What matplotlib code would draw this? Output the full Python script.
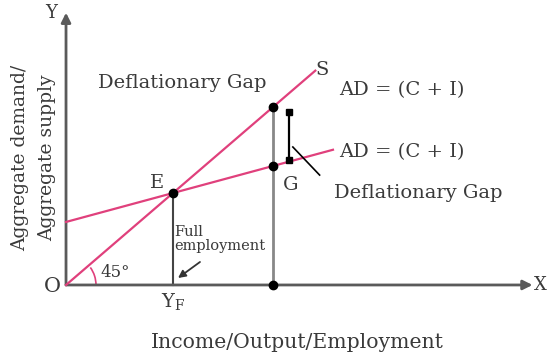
import matplotlib
matplotlib.use("Agg")
import matplotlib.pyplot as plt
from matplotlib.patches import Arc

plt.rcParams['font.family'] = ['DejaVu Serif']
plt.rcParams['mathtext.fontset'] = 'dejavuserif'

# ---- data (economic units) ----
yf = 100.0                 # full-employment income
x_gap = 193.5              # income level where the gap is shown
as_x = [0, 233]            # 45 degree line (aggregate supply)
as_y = [0, 233]
ad_x = [0, 249.5]          # aggregate demand line
ad_y = [68.5, 147.0]
e_point = (100.0, 100.0)
top_point = (193.5, 193.5)
g_point = (193.5, 129.5)
bracket_x = 208.5
bracket_y = [136.0, 188.0]
leader_x = [212, 237]
leader_y = [150, 119.5]
x_axis_end = 436
y_axis_end = 296

pink = '#e0407c'
axis_col = '#5a5a5a'
txt = '#3a3a3a'

fig = plt.figure(figsize=(5.52, 3.57), dpi=100)
ax = fig.add_axes([0, 0, 1, 1])
ax.set_xlim(-61.7, 454.2)
ax.set_ylim(-78.3, 309.8)
ax.axis('off')

# axes with arrows
ax.annotate('', xy=(x_axis_end, 0), xytext=(0, 0),
            arrowprops=dict(arrowstyle='-|>', color=axis_col, lw=2, mutation_scale=14, shrinkA=0, shrinkB=0))
ax.annotate('', xy=(0, y_axis_end), xytext=(0, 0),
            arrowprops=dict(arrowstyle='-|>', color=axis_col, lw=2, mutation_scale=14, shrinkA=0, shrinkB=0))

# vertical lines
ax.plot([e_point[0], e_point[0]], [0, e_point[1]], color='#444444', lw=1.5, zorder=2)
ax.plot([top_point[0], top_point[0]], [0, top_point[1]], color='#888888', lw=2, zorder=2)

# lines
ax.plot(as_x, as_y, color=pink, lw=1.6, zorder=3)
ax.plot(ad_x, ad_y, color=pink, lw=1.6, zorder=3)

# dots
ax.plot([e_point[0], top_point[0], g_point[0], top_point[0]],
        [e_point[1], top_point[1], g_point[1], 0], 'o', color='black', ms=6, zorder=5)

# bracket
ax.plot([bracket_x, bracket_x], bracket_y, color='black', lw=1.6, zorder=4)
ax.plot([bracket_x, bracket_x], bracket_y, 's', color='black', ms=4, zorder=4)
ax.plot(leader_x, leader_y, color='black', lw=1.2, zorder=4)

# 45 degree arc
arc = Arc((0, 0), 2 * 28, 2 * 28 * 1.07 / 0.92, theta1=0, theta2=40, color=pink, lw=1.2)
ax.add_patch(arc)

# texts
fs = 14
ax.text(-14, 296, 'Y', fontsize=fs - 1, color=txt, ha='center', va='center')
ax.text(443, 0, 'X', fontsize=fs - 1, color=txt, ha='center', va='center')
ax.text(-13, -2, 'O', fontsize=fs + 1, color=txt, ha='center', va='center')
ax.text(-43, 138, 'Aggregate demand/', fontsize=fs - 0.5, color=txt, ha='center', va='center', rotation=90)
ax.text(-18, 138, 'Aggregate supply', fontsize=fs - 0.5, color=txt, ha='center', va='center', rotation=90)
ax.text(109, 219.5, 'Deflationary Gap', fontsize=fs, color=txt, ha='center', va='center')
ax.text(239, 233.5, 'S', fontsize=fs, color=txt, ha='center', va='center')
ax.text(255, 212, 'AD = (C + I)', fontsize=fs, color=txt, ha='left', va='center')
ax.text(255.5, 144.5, 'AD = (C + I)', fontsize=fs, color=txt, ha='left', va='center')
ax.text(250.5, 100, 'Deflationary Gap', fontsize=fs, color=txt, ha='left', va='center')
ax.text(210, 109, 'G', fontsize=fs, color=txt, ha='center', va='center')
ax.text(85, 111, 'E', fontsize=fs, color=txt, ha='center', va='center')
ax.text(101.5, 50.5, 'Full\nemployment', fontsize=10.5, color=txt, ha='left', va='center', linespacing=1.0)
ax.annotate('', xy=(104.7, 7.6), xytext=(125.2, 25),
            arrowprops=dict(arrowstyle='-|>', color='#333333', lw=1.3, mutation_scale=11, shrinkA=0, shrinkB=0))
ax.text(46, 14, '45°', fontsize=12, color=txt, ha='center', va='center')
ax.text(yf, -18, r'Y$_{\mathrm{F}}$', fontsize=fs, color=txt, ha='center', va='center')
ax.text(216, -63, 'Income/Output/Employment', fontsize=14.7, color=txt, ha='center', va='center')

fig.savefig('out.png', dpi=100)
